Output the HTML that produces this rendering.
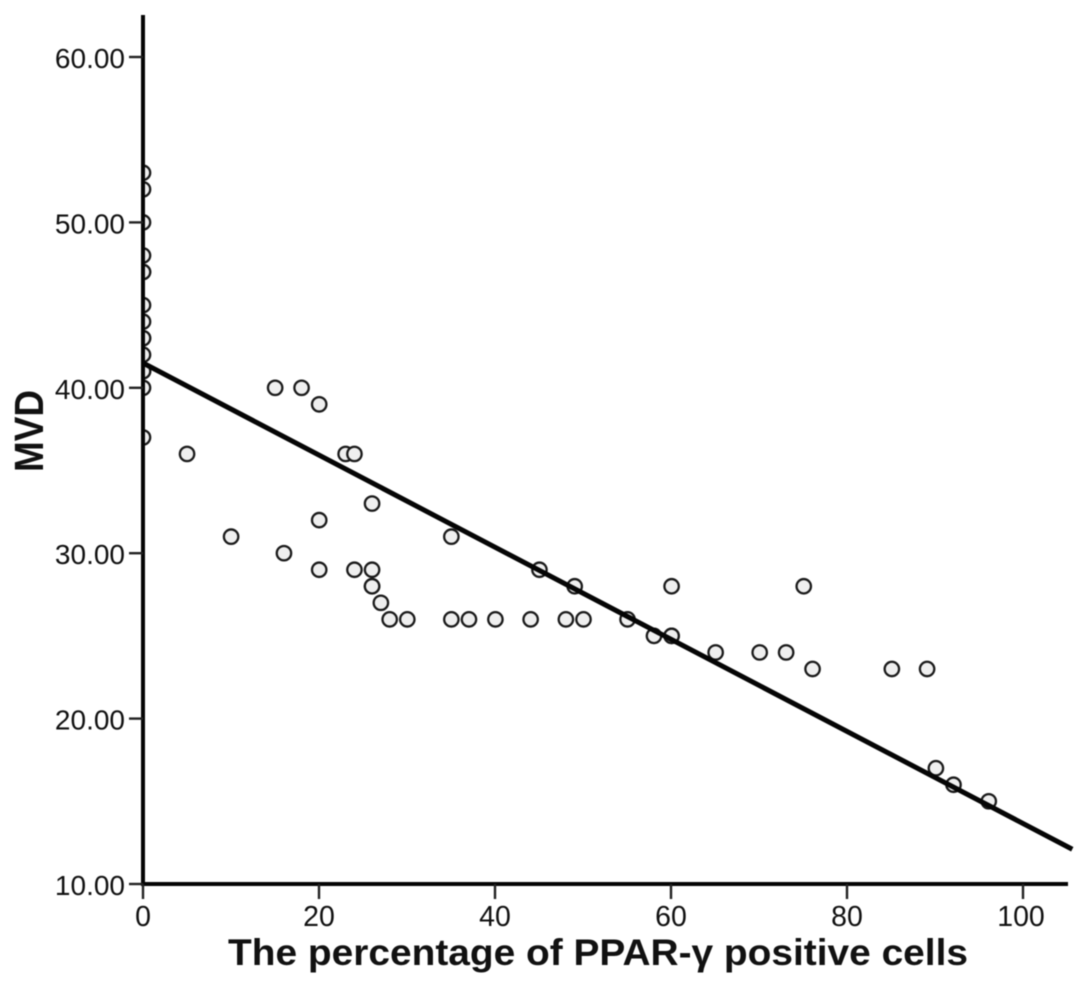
<!DOCTYPE html>
<html>
<head>
<meta charset="utf-8">
<style>
html,body{margin:0;padding:0;background:#fff;width:1087px;height:986px;overflow:hidden}
svg{display:block;filter:blur(0.4px)}
text{font-family:"Liberation Sans",sans-serif;fill:#111}
</style>
</head>
<body>
<svg id="chart" width="1087" height="986" viewBox="0 0 1087 986" xmlns="http://www.w3.org/2000/svg">
<defs><clipPath id="plot-clip"><rect x="143" y="0" width="944" height="986"/></clipPath></defs>
<rect width="1087" height="986" fill="#fff"/>
<g id="points" clip-path="url(#plot-clip)"></g>
<g id="fit"></g>
<g id="axes"></g>
<text x="598" y="965" text-anchor="middle" font-size="37" font-weight="bold" textLength="740" lengthAdjust="spacingAndGlyphs">The percentage of PPAR-γ positive cells</text>
<text transform="translate(43,431) rotate(-90)" text-anchor="middle" font-size="41" font-weight="bold" textLength="82" lengthAdjust="spacingAndGlyphs">MVD</text>
</svg>
<script>
const pointX = [0,0,0,0,0,0,0,0,0,0,0,0,0,0,0,
  5,10,15,16,18,20,20,20,23,24,24,26,26,26,26,27,28,30,
  35,35,37,40,44,45,48,49,50,55,58,60,60,60,65,70,73,75,76,85,89,90,92,96];
const pointY = [53,52,50,48,47,47,45,44,43,43,42,41,41,40,37,
  36,31,40,30,40,39,32,29,36,36,29,33,29,28,28,27,26,26,
  31,26,26,26,26,29,26,28,26,26,25,28,25,25,24,24,24,28,23,23,23,17,16,15];
const fitX = [0,105.6];
const fitY = [41.5,12.1];
const xTicks = [0,20,40,60,80,100];
const yTicks = [10,20,30,40,50,60];

const NS = 'http://www.w3.org/2000/svg';
const xScale = v => 143 + v * 8.8;
const yScale = v => 884 - (v - 10) * 16.54;
const markerScale = v => 143 + v * 8.81;

function make(parent, tag, attrs, text) {
  const el = document.createElementNS(NS, tag);
  for (const k in attrs) el.setAttribute(k, attrs[k]);
  if (text !== undefined) el.textContent = text;
  parent.appendChild(el);
  return el;
}

const pointsLayer = document.getElementById('points');
pointX.forEach((x, i) => {
  const c = make(pointsLayer, 'circle', {cx: markerScale(x), cy: yScale(pointY[i]), r: 7.2, fill: '#efefef', stroke: '#1a1a1a', 'stroke-width': 2.3});
  
  
});

const fitLayer = document.getElementById('fit');
const fitLine = make(fitLayer, 'line', {x1: xScale(fitX[0]), y1: yScale(fitY[0]), x2: xScale(fitX[1]), y2: yScale(fitY[1]), stroke: '#050505', 'stroke-width': 5});



const axes = document.getElementById('axes');
const yAxis = make(axes, 'line', {x1: 143, y1: 15, x2: 143, y2: 886, stroke: '#050505', 'stroke-width': 4});


const xAxis = make(axes, 'line', {x1: 141, y1: 884, x2: 1068, y2: 884, stroke: '#050505', 'stroke-width': 4});



yTicks.forEach(v => {
  const t = make(axes, 'line', {x1: 129, y1: yScale(v), x2: 143, y2: yScale(v), stroke: '#222', 'stroke-width': 2.4});
  
  
  const l = make(axes, 'text', {x: 125, y: yScale(v) + 11, 'text-anchor': 'end', 'font-size': 28}, v.toFixed(2));
  
  
});

xTicks.forEach(v => {
  const t = make(axes, 'line', {x1: xScale(v), y1: 884, x2: xScale(v), y2: 899, stroke: '#222', 'stroke-width': 2.4});
  
  
  const l = make(axes, 'text', {x: xScale(v) - (v === 100 ? 2 : 0), y: 926, 'text-anchor': 'middle', 'font-size': 28.5}, String(v));
  
  
});
</script>
</body>
</html>
